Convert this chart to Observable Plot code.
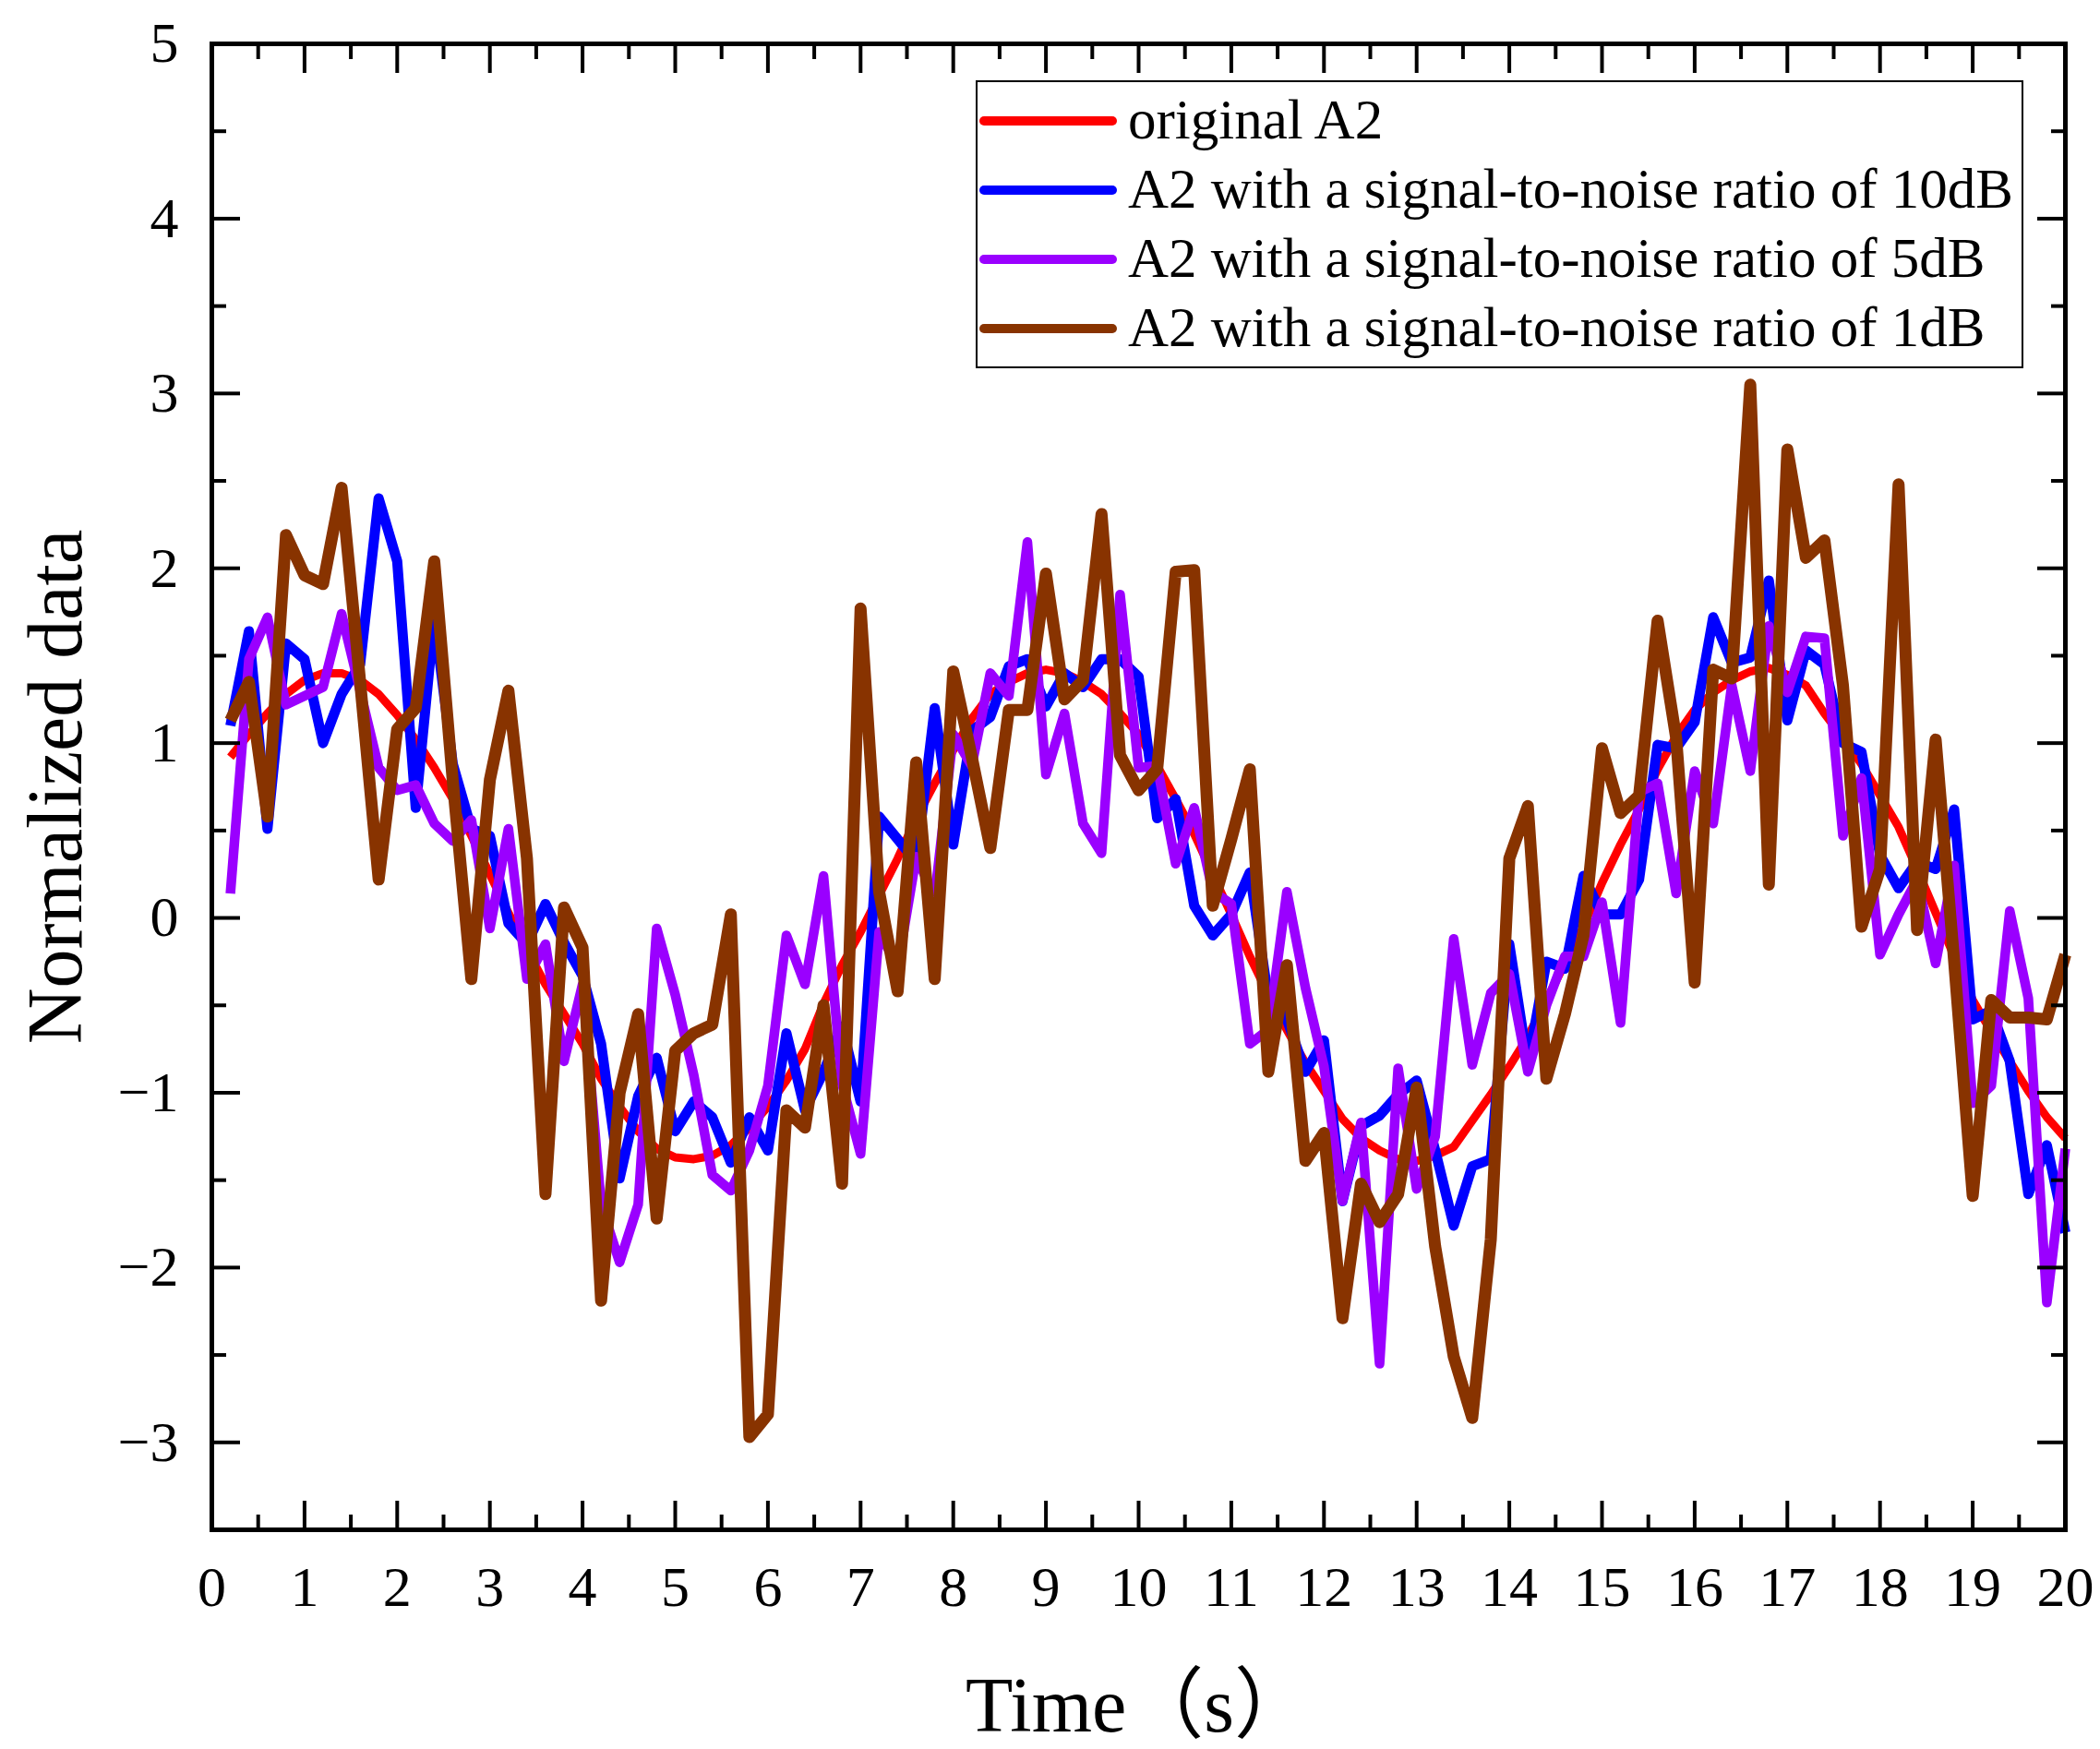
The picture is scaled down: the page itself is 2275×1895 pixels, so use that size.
<!DOCTYPE html>
<html>
<head>
<meta charset="utf-8">
<script src="https://cdn.jsdelivr.net/npm/d3@7"></script>
<script src="https://cdn.jsdelivr.net/npm/@observablehq/plot@0.6"></script>
<style>
  html, body { margin: 0; padding: 0; background: #ffffff; }
  #chart { width: 2275px; height: 1895px; }
</style>
</head>
<body>
<div id="chart"></div>
<script>
// ---- data ----
const time = [0.2,0.4,0.6,0.8,1,1.2,1.4,1.6,1.8,2,2.2,2.4,2.6,2.8,3,3.2,3.4,3.6,3.8,4,
  4.2,4.4,4.6,4.8,5,5.2,5.4,5.6,5.8,6,6.2,6.4,6.6,6.8,7,7.2,7.4,7.6,7.8,8,
  8.2,8.4,8.6,8.8,9,9.2,9.4,9.6,9.8,10,10.2,10.4,10.6,10.8,11,11.2,11.4,11.6,11.8,12,
  12.2,12.4,12.6,12.8,13,13.2,13.4,13.6,13.8,14,14.2,14.4,14.6,14.8,15,15.2,15.4,15.6,15.8,16,
  16.2,16.4,16.6,16.8,17,17.2,17.4,17.6,17.8,18,18.2,18.4,18.6,18.8,19,19.2,19.4,19.6,19.8,20];

const originalA2 = [0.92,1.05,1.17,1.28,1.36,1.40,1.40,1.36,1.28,1.16,1.02,0.86,0.68,0.47,0.25,0.03,-0.18,-0.38,-0.55,-0.72,
  -0.92,-1.08,-1.22,-1.32,-1.37,-1.38,-1.36,-1.30,-1.20,-1.08,-0.93,-0.75,-0.49,-0.27,-0.08,0.13,0.34,0.57,0.77,0.96,
  1.14,1.28,1.35,1.40,1.42,1.40,1.35,1.28,1.17,1.05,0.87,0.68,0.48,0.25,0.02,-0.22,-0.44,-0.64,-0.83,-0.99,
  -1.15,-1.26,-1.33,-1.38,-1.39,-1.36,-1.31,-1.16,-1.01,-0.85,-0.68,-0.47,-0.26,-0.05,0.20,0.42,0.62,0.85,1.04,1.19,
  1.29,1.36,1.41,1.43,1.39,1.33,1.17,1.03,0.88,0.70,0.52,0.28,0.03,-0.22,-0.47,-0.65,-0.82,-0.99,-1.14,-1.26];

const snr10dB = [1.10,1.64,0.51,1.57,1.48,1.00,1.28,1.45,2.40,2.04,0.63,1.72,0.88,0.51,0.47,-0.03,-0.15,0.08,-0.14,-0.33,
  -0.72,-1.49,-1.02,-0.80,-1.22,-1.05,-1.14,-1.40,-1.14,-1.33,-0.66,-1.10,-0.88,-0.62,-1.05,0.58,0.45,0.32,1.20,0.42,
  1.07,1.15,1.44,1.48,1.21,1.40,1.32,1.48,1.48,1.38,0.57,0.68,0.07,-0.10,0.02,0.26,-0.46,-0.58,-0.88,-0.70,
  -1.62,-1.19,-1.13,-1.01,-0.93,-1.33,-1.76,-1.42,-1.38,-0.15,-0.84,-0.25,-0.29,0.24,0.02,0.02,0.22,0.99,0.97,1.12,
  1.72,1.46,1.49,1.93,1.13,1.53,1.45,1.00,0.95,0.36,0.17,0.32,0.28,0.62,-0.58,-0.53,-0.82,-1.58,-1.30,-1.80];

const snr5dB = [0.14,1.48,1.72,1.22,1.27,1.32,1.74,1.30,0.86,0.73,0.76,0.54,0.44,0.56,-0.06,0.51,-0.35,-0.15,-0.82,-0.38,
  -1.64,-1.97,-1.64,-0.06,-0.44,-0.90,-1.47,-1.56,-1.33,-0.96,-0.10,-0.38,0.24,-0.95,-1.35,-0.08,-0.28,0.35,0.12,1.05,
  0.87,1.40,1.27,2.15,0.82,1.17,0.54,0.37,1.85,0.86,0.87,0.31,0.63,0.15,0.08,-0.72,-0.64,0.15,-0.40,-0.85,
  -1.62,-1.17,-2.55,-0.86,-1.55,-1.25,-0.12,-0.84,-0.43,-0.32,-0.88,-0.50,-0.22,-0.22,0.09,-0.60,0.72,0.77,0.14,0.84,
  0.54,1.33,0.84,1.67,1.29,1.61,1.60,0.47,0.80,-0.21,0.02,0.22,-0.26,0.30,-1.06,-0.96,0.04,-0.46,-2.20,-1.32];

const snr1dB = [1.13,1.35,0.58,2.19,1.96,1.91,2.46,1.35,0.22,1.08,1.20,2.04,0.78,-0.35,0.79,1.30,0.34,-1.58,0.06,-0.17,
  -2.19,-1.00,-0.55,-1.72,-0.76,-0.66,-0.61,0.02,-2.97,-2.84,-1.10,-1.20,-0.50,-1.52,1.77,0.15,-0.42,0.89,-0.35,1.41,
  0.92,0.40,1.19,1.19,1.97,1.25,1.36,2.31,0.93,0.73,0.85,1.98,1.99,0.07,0.45,0.85,-0.88,-0.27,-1.39,-1.23,
  -2.29,-1.52,-1.74,-1.58,-0.97,-1.88,-2.51,-2.86,-1.84,0.34,0.64,-0.92,-0.55,-0.10,0.97,0.60,0.70,1.70,1.03,-0.37,
  1.42,1.37,3.05,0.19,2.68,2.06,2.16,1.33,-0.05,0.28,2.48,-0.07,1.02,-0.25,-1.59,-0.47,-0.57,-0.57,-0.58,-0.21];

const seriesNames = [
  "original A2",
  "A2 with a signal-to-noise ratio of 10dB",
  "A2 with a signal-to-noise ratio of 5dB",
  "A2 with a signal-to-noise ratio of 1dB"
];
const seriesValues = [originalA2, snr10dB, snr5dB, snr1dB];
const seriesColors = ["#ff0000", "#0000ff", "#9a00ff", "#883300"];
const seriesWidths = [9, 11, 10.5, 13];

const xMajorTicks = [0,1,2,3,4,5,6,7,8,9,10,11,12,13,14,15,16,17,18,19,20];
const xMinorTicks = [0.5,1.5,2.5,3.5,4.5,5.5,6.5,7.5,8.5,9.5,10.5,11.5,12.5,13.5,14.5,15.5,16.5,17.5,18.5,19.5];
const yMajorTicks = [-3,-2,-1,0,1,2,3,4,5];
const yMinorTicks = [-2.5,-1.5,-0.5,0.5,1.5,2.5,3.5,4.5];

const xTitle = "Time（s）";
const yTitle = "Normalized data";

// ---- layout ----
const W = 2275, H = 1895;
const mL = 229, mR = 38, mT = 47, mB = 238;
const serif = "'Liberation Serif', 'Times New Roman', 'Noto Sans CJK SC', serif";

const rowsOf = (vals) => time.map((t, i) => ({t, v: vals[i]}));

const lineMarks = seriesValues.map((vals, i) =>
  Plot.line(rowsOf(vals), {x: "t", y: "v", stroke: seriesColors[i], strokeWidth: seriesWidths[i],
    strokeLinejoin: "round", strokeLinecap: "butt"}));

const blank = () => "";
const intFmt = d => (d < 0 ? "\u2212" + Math.abs(d) : String(d));
const tickStyle = {stroke: "black", strokeWidth: 4, label: null, tickFormat: blank};

const chart = Plot.plot({
  width: W, height: H,
  marginLeft: mL, marginRight: mR, marginTop: mT, marginBottom: mB,
  style: {fontFamily: serif, color: "black", background: "white", overflow: "visible"},
  x: {domain: [0, 20], label: null},
  y: {domain: [-3.5, 5], label: null},
  marks: [
    ...lineMarks,
    // inward ticks, four sides
    Plot.axisX(xMajorTicks, {anchor: "bottom", tickSize: -31, ...tickStyle}),
    Plot.axisX(xMinorTicks, {anchor: "bottom", tickSize: -16, ...tickStyle}),
    Plot.axisX(xMajorTicks, {anchor: "top", tickSize: -31, ...tickStyle}),
    Plot.axisX(xMinorTicks, {anchor: "top", tickSize: -16, ...tickStyle}),
    Plot.axisY(yMajorTicks, {anchor: "left", tickSize: -31, ...tickStyle}),
    Plot.axisY(yMinorTicks, {anchor: "left", tickSize: -16, ...tickStyle}),
    Plot.axisY(yMajorTicks, {anchor: "right", tickSize: -31, ...tickStyle}),
    Plot.axisY(yMinorTicks, {anchor: "right", tickSize: -16, ...tickStyle}),
    // tick labels
    Plot.axisX(xMajorTicks, {anchor: "bottom", tickSize: 0, tickPadding: 38, fontSize: 62, label: null,
      fill: "black", tickFormat: intFmt}),
    Plot.axisY(yMajorTicks, {anchor: "left", tickSize: 0, tickPadding: 36, fontSize: 62, label: null,
      fill: "black", tickFormat: intFmt}),
    Plot.frame({stroke: "black", strokeWidth: 5}),
    // axis titles
    Plot.text([yTitle], {frameAnchor: "left", text: d => d, rotate: -90, dx: -142, lineAnchor: "bottom",
      textAnchor: "middle", fontSize: 84, fill: "black"}),
    Plot.text([xTitle], {frameAnchor: "bottom", text: d => d, dy: 218, lineAnchor: "bottom",
      textAnchor: "middle", fontSize: 84, fill: "black"})
  ]
});

document.getElementById("chart").appendChild(chart);

// ---- legend (inside the plot, top right) ----
const svg = d3.select(chart);
const lg = svg.append("g").attr("class", "legend").attr("text-anchor", "start");
lg.append("rect").attr("x", 1058).attr("y", 88).attr("width", 1133).attr("height", 310)
  .attr("fill", "white").attr("stroke", "black").attr("stroke-width", 2);
seriesNames.forEach((name, i) => {
  const yLine = 131 + i * 75;
  lg.append("line").attr("x1", 1066).attr("x2", 1205).attr("y1", yLine).attr("y2", yLine)
    .attr("stroke", seriesColors[i]).attr("stroke-width", 10).attr("stroke-linecap", "round");
  lg.append("text").attr("x", 1222).attr("y", 150 + i * 75).attr("text-anchor", "start")
    .attr("font-family", serif).attr("font-size", 61).attr("fill", "black").text(name);
});
</script>
</body>
</html>
